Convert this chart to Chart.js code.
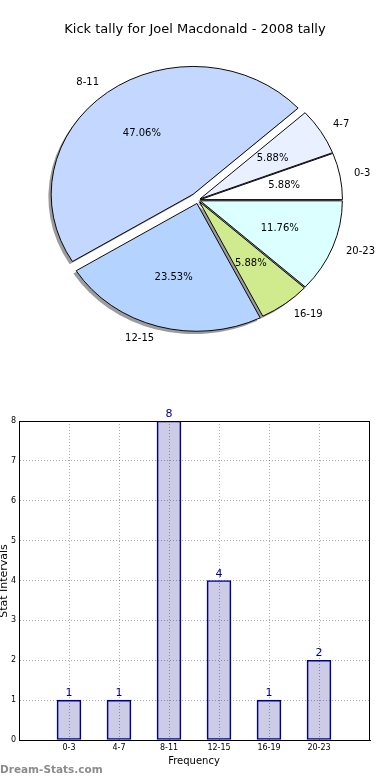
<!DOCTYPE html>
<html>
<head>
<meta charset="utf-8">
<title>Kick tally for Joel Macdonald - 2008 tally</title>
<script src="https://cdn.jsdelivr.net/npm/chart.js@4.4.1/dist/chart.umd.min.js"></script>
<style>
  html, body { margin: 0; padding: 0; background: #fff; }
  #wrap { position: relative; width: 390px; height: 780px; overflow: hidden; }
  #pieChart { position: absolute; left: 0; top: 0; }
  #barChart { position: absolute; left: 0; top: 400px; }
</style>
</head>
<body>
<div id="wrap">
  <canvas id="pieChart" width="390" height="400"></canvas>
  <canvas id="barChart" width="390" height="380"></canvas>
</div>
<script>
// Chart data
const chartTitle = 'Kick tally for Joel Macdonald - 2008 tally';
const intervals = ['0-3', '4-7', '8-11', '12-15', '16-19', '20-23'];
const tally = [1, 1, 8, 4, 1, 2];
const yTicks = [0, 1, 2, 3, 4, 5, 6, 7, 8];

// Styles
const sliceColors = ['#ffffff', '#e9f0ff', '#c4d8ff', '#b4d4ff', '#d0eb8d', '#dcffff'];
const sliceExplode = [2.5, 2.5, 8, 4, 2.5, 2.5];
const pieRadius = 142;
const pieSquash = 0.9;
const FONT = '"DejaVu Sans", sans-serif';

Chart.defaults.font.family = FONT;
Chart.defaults.color = '#000';

// matplotlib goes counter-clockwise from 3 o'clock, Chart.js goes clockwise -> reverse
const pieOrder = intervals.map((_, i) => intervals.length - 1 - i);
const pieLabels = pieOrder.map(i => intervals[i]);
const pieValues = pieOrder.map(i => tally[i]);
const pieColors = pieOrder.map(i => sliceColors[i]);
const pieExplode = pieOrder.map(i => sliceExplode[i]);
const total = tally.reduce((a, b) => a + b, 0);

// Pie: explode, shadow, squash and labels
const pieExtras = {
    id: 'pieExtras',
    beforeDatasetsDraw(chart) {
        const { ctx, chartArea } = chart;
        const cx = (chartArea.left + chartArea.right) / 2;
        const cy = (chartArea.top + chartArea.bottom) / 2;
        const arcs = chart.getDatasetMeta(0).data;

        ctx.save();
        ctx.translate(cx, cy);
        ctx.scale(1, pieSquash);
        ctx.translate(-cx, -cy);

        arcs.forEach((arc, i) => {
            const mid = (arc.startAngle + arc.endAngle) / 2;
            arc.x = cx + Math.cos(mid) * pieExplode[i];
            arc.y = cy + Math.sin(mid) * pieExplode[i];
        });

        // shadow under every slice
        ctx.fillStyle = '#9c9c9c';
        arcs.forEach(arc => {
            const sx = arc.x - 2.8;
            const sy = arc.y + 2.8 / pieSquash;
            ctx.beginPath();
            ctx.moveTo(sx, sy);
            ctx.arc(sx, sy, arc.outerRadius, arc.startAngle, arc.endAngle);
            ctx.closePath();
            ctx.fill();
        });
    },
    afterDatasetsDraw(chart) {
        const { ctx, chartArea } = chart;
        ctx.restore();

        const cx = (chartArea.left + chartArea.right) / 2;
        const cy = (chartArea.top + chartArea.bottom) / 2;
        const arcs = chart.getDatasetMeta(0).data;

        ctx.save();
        ctx.font = '10px ' + FONT;
        ctx.fillStyle = '#000';
        ctx.textBaseline = 'middle';
        arcs.forEach((arc, i) => {
            const mid = (arc.startAngle + arc.endAngle) / 2;
            const r = arc.outerRadius;
            const e = pieExplode[i];
            const dx = Math.cos(mid), dy = Math.sin(mid) * pieSquash;

            // percentage
            ctx.textAlign = 'center';
            const pct = (pieValues[i] / total * 100).toFixed(2) + '%';
            ctx.fillText(pct, cx + dx * (e + 0.6 * r), cy + dy * (e + 0.6 * r));

            // interval name
            ctx.textAlign = dx > 0 ? 'left' : 'right';
            ctx.fillText(pieLabels[i], cx + dx * (e + 1.1 * r), cy + dy * (e + 1.1 * r));
        });

        // title
        ctx.font = '13px ' + FONT;
        ctx.textAlign = 'center';
        ctx.fillText(chartTitle, 195, 30);
        ctx.restore();
    }
};

new Chart(document.getElementById('pieChart'), {
    type: 'pie',
    data: {
        labels: pieLabels,
        datasets: [{
            data: pieValues,
            backgroundColor: pieColors,
            borderColor: '#000',
            borderWidth: 1,
            clip: false
        }]
    },
    options: {
        responsive: false,
        animation: false,
        rotation: 90,
        radius: pieRadius,
        layout: { padding: { left: 48, right: 42, top: 50, bottom: 50 } },
        plugins: {
            legend: { display: false },
            tooltip: { enabled: false }
        }
    },
    plugins: [pieExtras]
});

// Bar chart: frame, value labels, axis titles, watermark
const barExtras = {
    id: 'barExtras',
    afterDatasetsDraw(chart) {
        const { ctx, chartArea: a } = chart;
        ctx.save();

        ctx.strokeStyle = '#000';
        ctx.lineWidth = 1;
        ctx.strokeRect(Math.round(a.left) + 0.5, Math.round(a.top) + 0.5,
            Math.round(a.right - a.left) - 1, Math.round(a.bottom - a.top));

        ctx.fillStyle = '#00008b';
        ctx.font = '11px ' + FONT;
        ctx.textAlign = 'center';
        ctx.textBaseline = 'alphabetic';
        chart.getDatasetMeta(0).data.forEach((bar, i) => {
            ctx.fillText(String(tally[i]), bar.x, bar.y - 4);
        });

        ctx.fillStyle = '#000';
        ctx.font = '10px ' + FONT;
        ctx.fillText('Frequency', 194, 364);

        ctx.save();
        ctx.translate(6.5, 181);
        ctx.rotate(-Math.PI / 2);
        ctx.font = '11px ' + FONT;
        ctx.fillText('Stat Intervals', 0, 0);
        ctx.restore();

        ctx.fillStyle = '#8c8c8c';
        ctx.font = 'bold 10.5px ' + FONT;
        ctx.textAlign = 'left';
        ctx.textBaseline = 'middle';
        ctx.fillText('Dream-Stats.com', 0, 370);
        ctx.restore();
    }
};

const gridStyle = { color: 'rgba(0,0,0,0.33)', lineWidth: 1, drawTicks: false, offset: false };

new Chart(document.getElementById('barChart'), {
    type: 'bar',
    data: {
        datasets: [{
            data: tally.map((v, i) => ({ x: i, y: v })),
            backgroundColor: 'rgba(0,0,128,0.2)',
            borderColor: '#00008b',
            borderWidth: 1,
            borderSkipped: false,
            barThickness: 24
        }]
    },
    options: {
        responsive: false,
        animation: false,
        layout: { padding: { left: 0, right: 20, top: 21, bottom: 0 } },
        plugins: {
            legend: { display: false },
            tooltip: { enabled: false }
        },
        scales: {
            x: {
                type: 'linear',
                min: -1,
                max: 6.02,
                offset: false,
                grid: gridStyle,
                border: { color: '#000', dash: [1, 2] },
                afterBuildTicks: s => { s.ticks = intervals.map((_, i) => ({ value: i })); },
                afterFit: s => { s.height = 40; },
                ticks: {
                    callback: v => intervals[v],
                    font: { size: 8 },
                    padding: 3,
                    autoSkip: false,
                    maxRotation: 0
                }
            },
            y: {
                min: 0,
                max: 8,
                grid: gridStyle,
                border: { color: '#000', dash: [1, 2] },
                afterBuildTicks: s => { s.ticks = yTicks.map(v => ({ value: v })); },
                afterFit: s => { s.width = 19; },
                ticks: { font: { size: 8 }, padding: 3 }
            }
        }
    },
    plugins: [barExtras]
});
</script>
</body>
</html>
